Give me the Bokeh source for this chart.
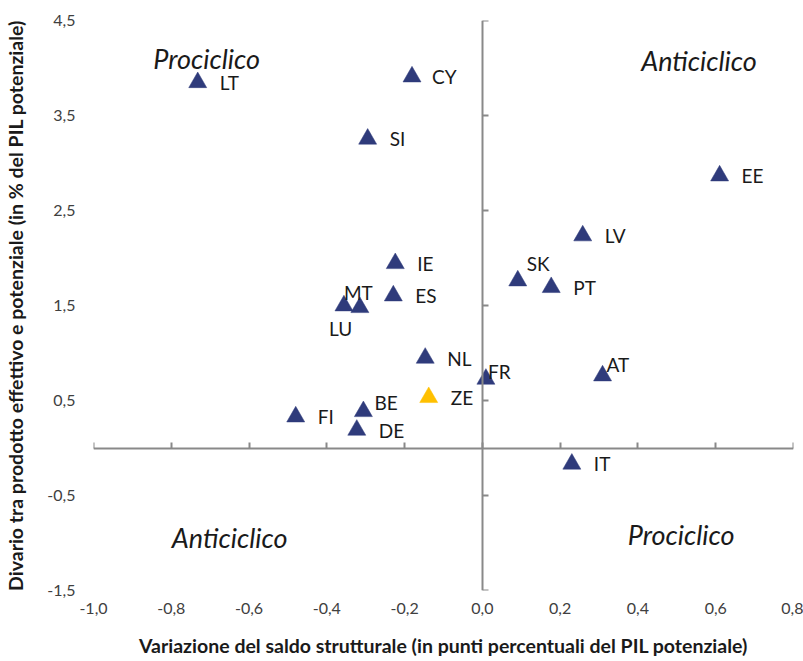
from bokeh.plotting import figure
from bokeh.models import LinearAxis, FixedTicker, ColumnDataSource, Range1d, Label
from bokeh.core.properties import value
from bokeh.embed import file_html
from bokeh.resources import INLINE

# ---- data ----
countries = ["LT", "CY", "SI", "EE", "LV", "IE", "SK", "PT", "ES", "MT",
             "LU", "NL", "FR", "AT", "ZE", "BE", "FI", "DE", "IT"]
var_saldo = [-0.732, -0.181, -0.295, 0.610, 0.258, -0.224, 0.091, 0.177, -0.229, -0.315,
             -0.356, -0.147, 0.009, 0.309, -0.138, -0.306, -0.480, -0.323, 0.230]
output_gap = [3.848, 3.908, 3.253, 2.866, 2.235, 1.943, 1.761, 1.691, 1.603, 1.480,
              1.498, 0.947, 0.726, 0.761, 0.533, 0.385, 0.329, 0.189, -0.168]
area_euro = ["ZE"]

x_ticks = [-1.0, -0.8, -0.6, -0.4, -0.2, 0.0, 0.2, 0.4, 0.6, 0.8]
x_tick_labels = ["-1,0", "-0,8", "-0,6", "-0,4", "-0,2", "0,0", "0,2", "0,4", "0,6", "0,8"]
y_ticks = [-1.5, -0.5, 0.5, 1.5, 2.5, 3.5, 4.5]
y_tick_labels = ["-1,5", "-0,5", "0,5", "1,5", "2,5", "3,5", "4,5"]

quadrant_text = ["Prociclico", "Anticiclico", "Anticiclico", "Prociclico"]
quadrant_x = [-0.709, 0.557, -0.65, 0.511]
quadrant_y = [4.10, 4.08, -0.944, -0.913]

x_title = "Variazione del saldo strutturale (in punti percentuali del PIL potenziale)"
y_title = "Divario tra prodotto effettivo e potenziale (in % del PIL potenziale)"

# ---- styles ----
NAVY = "#2F3B7B"
YELLOW = "#FFC000"
AXIS_GRAY = "#898989"
FONT = "Lato"

label_offsets = {  # screen px (dx, dy), dy positive = down
    "SK": (9, -17), "FR": (2, -8), "AT": (4, -11), "BE": (11, -9),
    "MT": (-16, -15), "LU": (-15, 23), "CY": (20, 0),
}
default_offset = (22, 0)

colors = [YELLOW if c in area_euro else NAVY for c in countries]
xo = [label_offsets.get(c, default_offset)[0] for c in countries]
yo = [label_offsets.get(c, default_offset)[1] for c in countries]

src = ColumnDataSource(dict(x=var_saldo, y=output_gap, name=countries,
                            color=colors, xo=xo, yo=yo))

p = figure(width=803, height=661, output_backend="svg", toolbar_location=None,
           x_range=Range1d(x_ticks[0], x_ticks[-1]),
           y_range=Range1d(y_ticks[0], y_ticks[-1]),
           min_border_left=93, min_border_right=10, min_border_top=20,
           min_border_bottom=71)
p.outline_line_color = None
p.xgrid.visible = False
p.ygrid.visible = False
p.background_fill_color = "white"
p.border_fill_color = "white"

# edge axes: labels only
xa = p.xaxis[0]
xa.ticker = FixedTicker(ticks=x_ticks)
xa.major_label_overrides = dict(zip(x_ticks, x_tick_labels))
xa.axis_line_color = None
xa.major_tick_line_color = None
xa.minor_tick_line_color = None
xa.major_tick_in = 0
xa.major_tick_out = 0
xa.major_label_standoff = 12
xa.major_label_text_font = FONT
xa.major_label_text_font_size = "16px"
xa.major_label_text_color = "#404040"
xa.axis_label = x_title
xa.axis_label_text_font = FONT
xa.axis_label_text_font_style = "bold"
xa.axis_label_text_font_size = "19.5px"
xa.axis_label_text_color = "#1a1a1a"
xa.axis_label_standoff = 17

ya = p.yaxis[0]
ya.ticker = FixedTicker(ticks=y_ticks)
ya.major_label_overrides = dict(zip(y_ticks, y_tick_labels))
ya.axis_line_color = None
ya.major_tick_line_color = None
ya.minor_tick_line_color = None
ya.major_tick_in = 0
ya.major_tick_out = 0
ya.major_label_standoff = 18
ya.major_label_text_font = FONT
ya.major_label_text_font_size = "16px"
ya.major_label_text_color = "#404040"
ya.axis_label = y_title
ya.axis_label_text_font = FONT
ya.axis_label_text_font_style = "bold"
ya.axis_label_text_font_size = "19.5px"
ya.axis_label_text_color = "#1a1a1a"
ya.axis_label_standoff = 17

# crossing axes at zero (no labels)
cx = LinearAxis(fixed_location=0, ticker=FixedTicker(ticks=x_ticks),
                major_label_overrides={t: "" for t in x_ticks},
                major_tick_in=0, major_tick_out=6,
                axis_line_color=AXIS_GRAY, axis_line_width=2,
                major_tick_line_color=AXIS_GRAY, major_tick_line_width=2,
                minor_tick_line_color=None, major_label_standoff=0)
cy = LinearAxis(fixed_location=0, ticker=FixedTicker(ticks=y_ticks),
                major_label_overrides={t: "" for t in y_ticks},
                major_tick_in=0, major_tick_out=6,
                axis_line_color=AXIS_GRAY, axis_line_width=2,
                major_tick_line_color=AXIS_GRAY, major_tick_line_width=2,
                minor_tick_line_color=None, major_label_standoff=0)
p.add_layout(cx, "above")
p.add_layout(cy, "right")

p.scatter("x", "y", source=src, marker="triangle", size=18,
          fill_color="color", line_color="color", line_width=0.5)

p.text("x", "y", text="name", source=src, x_offset="xo", y_offset="yo",
       text_align="left", text_baseline="middle",
       text_font=value(FONT), text_font_size="19px", text_color="#1a1a1a")

for t, qx, qy in zip(quadrant_text, quadrant_x, quadrant_y):
    p.add_layout(Label(x=qx, y=qy, text=t, text_align="center", text_baseline="middle",
                       text_font=FONT, text_font_style="italic", text_font_size="27px",
                       text_color="#1a1a1a"))

open("out.html", "w").write(file_html(p, INLINE))
